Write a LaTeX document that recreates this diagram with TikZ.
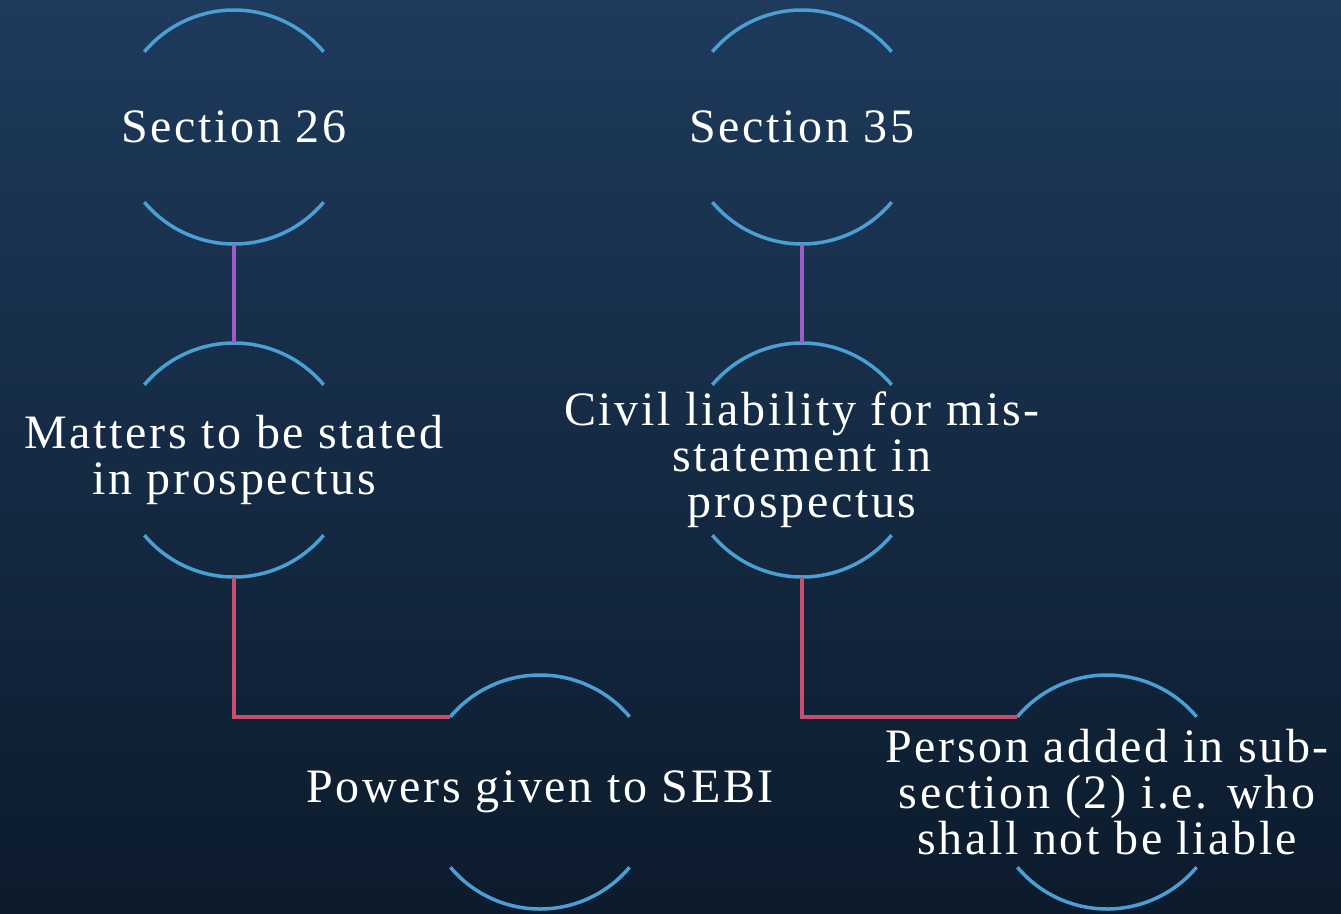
\documentclass[tikz,border=0pt]{standalone}
\usepackage{fontspec}
\setmainfont{Liberation Serif}[LetterSpace=5.5]
\usepackage{tikz}
\usetikzlibrary{positioning,calc,shapes}

\definecolor{bgtop}{RGB}{30,58,92}
\definecolor{bgmid}{RGB}{29,60,92}
\definecolor{bgbot}{RGB}{12,27,44}
\definecolor{arcblue}{RGB}{74,160,212}
\definecolor{linkpurple}{RGB}{155,95,200}
\definecolor{linkpink}{RGB}{200,80,110}

\begin{document}
\begin{tikzpicture}[
    x=1pt, y=1pt,
    topic/.style={inner sep=0pt, align=center, text=white, font=\fontsize{48}{46}\selectfont},
    halfarc/.style={draw=arcblue, line width=3.5pt},
    uplink/.style={draw=linkpurple, line width=3.5pt},
    sidelink/.style={draw=linkpink, line width=3.5pt}
]
% Background
\shade[top color=bgtop, middle color=bgmid, bottom color=bgbot] (0,0) rectangle (1341,-913);
\useasboundingbox (0,0) rectangle (1341,-913);

% Topics
\node[topic] (sec26) at (234,-127) {Section 26};
\node[topic] (sec35) at (802,-127) {Section 35};
\node[topic] (matters) at (234,-460) {Matters to be stated\\in prospectus};
\node[topic] (civil) at (802,-460) {Civil liability for mis-\\statement in\\prospectus};
\node[topic] (powers) at (540,-792) {Powers given to SEBI};
\node[topic] (person) at (1107,-792) {Person added in sub-\\section (2) i.e. who\\shall not be liable};

% Arcs round each topic, with ports for the links
\foreach \n in {sec26,sec35,matters,civil,powers,person}{
    \draw[halfarc] (\n.center) ++(140:117) arc[start angle=140, end angle=40, radius=117];
    \draw[halfarc] (\n.center) ++(220:117) arc[start angle=220, end angle=320, radius=117];
    \path (\n.center) ++(0,117) coordinate (\n-top);
    \path (\n.center) ++(0,-117) coordinate (\n-bot);
    \path (\n.center) ++(140:117) coordinate (\n-in);
}

% Links
\draw[uplink] (sec26-bot) -- (matters-top);
\draw[uplink] (sec35-bot) -- (civil-top);
\draw[sidelink] (matters-bot) |- (powers-in);
\draw[sidelink] (civil-bot) |- (person-in);
\end{tikzpicture}
\end{document}
